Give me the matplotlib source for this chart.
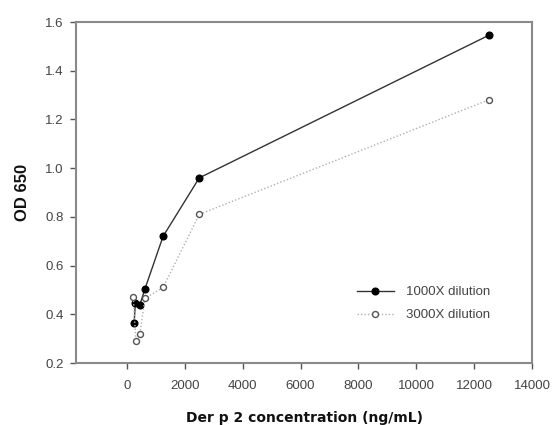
import matplotlib
matplotlib.use("Agg")
import matplotlib.pyplot as plt

x_1000 = [250, 290, 450, 625, 1250, 2500, 12500]
y_1000 = [0.365, 0.445, 0.44, 0.505, 0.72, 0.96, 1.545]
x_3000 = [220, 310, 450, 625, 1250, 2500, 12500]
y_3000 = [0.47, 0.29, 0.32, 0.465, 0.51, 0.81, 1.28]
xticks = [0, 2000, 4000, 6000, 8000, 10000, 12000, 14000]
yticks = [0.2, 0.4, 0.6, 0.8, 1.0, 1.2, 1.4, 1.6]

plt.rcParams['font.family'] = ['Liberation Sans', 'DejaVu Sans']
fig = plt.figure(figsize=(5.55, 4.25), dpi=100)
ax = fig.add_axes([76/555, 1-363/425, (532-76)/555, (363-22)/425])

ax.plot(x_1000, y_1000, color='#333333', lw=1.0, marker='o', ms=4.8,
        mfc='black', mec='black', label='1000X dilution', zorder=3)
ax.plot(x_3000, y_3000, color='#b0b0b0', lw=1.0, ls=(0, (1, 1.5)), marker='o', ms=4.3,
        mfc='white', mec='#555555', mew=1.0, label='3000X dilution', zorder=3)

ax.set_xlim(-1760, 14000)
ax.set_ylim(0.2, 1.6)
ax.set_xticks(xticks)
ax.set_xticklabels([str(t) for t in xticks])
ax.set_yticks(yticks)
ax.set_yticklabels([f"{t:.1f}" for t in yticks])

for s in ax.spines.values():
    s.set_color('#8a8a8a')
    s.set_linewidth(1.5)
ax.tick_params(direction='out', length=4, width=1, color='#555555',
               labelsize=9.5, labelcolor='#444444')
ax.tick_params(axis='x', pad=8)
ax.tick_params(axis='y', pad=5)

ax.set_xlabel('Der p 2 concentration (ng/mL)', fontsize=10, fontweight='bold',
              family='DejaVu Sans', labelpad=14, color='#111111')
ax.set_ylabel('OD 650', fontsize=12, fontweight='bold', labelpad=11, color='#111111')

leg = ax.legend(loc='upper left', bbox_to_anchor=(0.59, 0.26), frameon=False,
                fontsize=9.5, handlelength=2.8, handletextpad=0.9, labelspacing=0.8)
for t in leg.get_texts():
    t.set_color('#444444')

fig.savefig('out.png', dpi=100)
